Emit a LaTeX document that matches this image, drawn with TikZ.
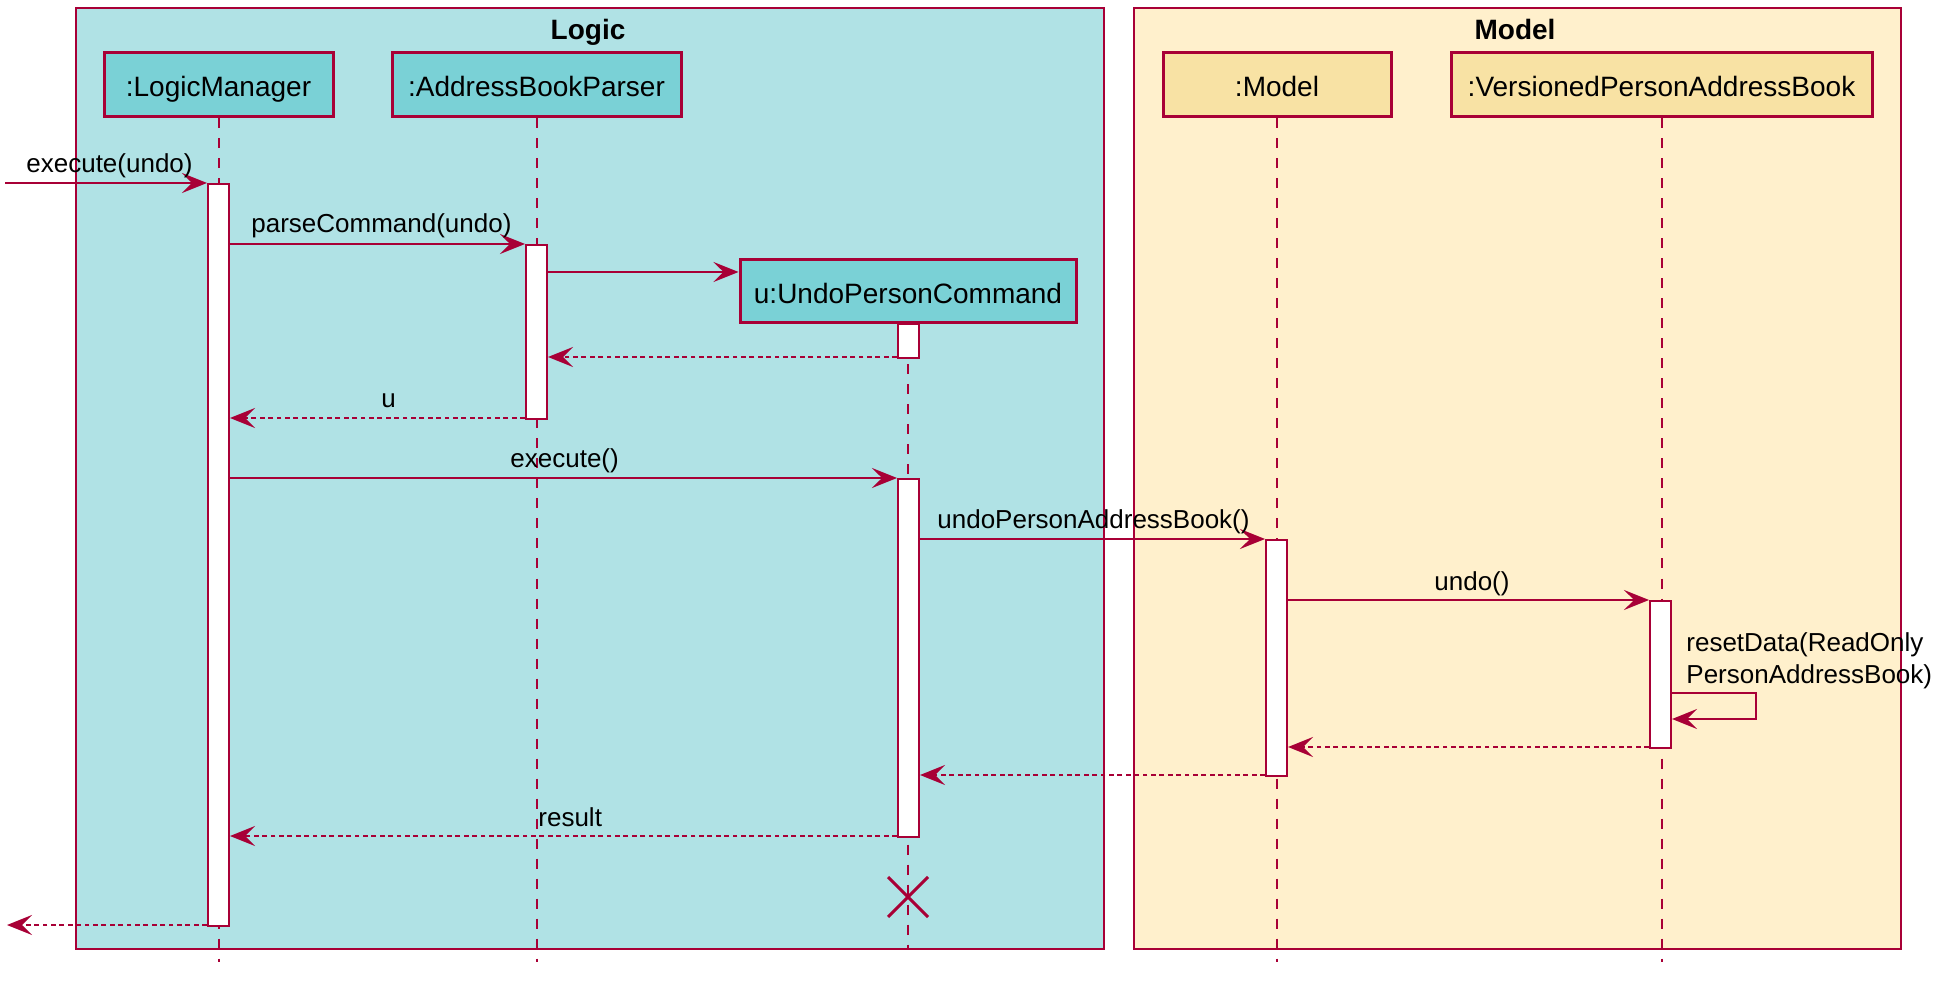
\documentclass[tikz,border=0pt]{standalone}
\usepackage{fontspec}
\setmainfont{Liberation Sans}
\usetikzlibrary{arrows.meta}
\definecolor{bord}{HTML}{A80036}
\definecolor{logicbg}{HTML}{B0E2E5}
\definecolor{logicpt}{HTML}{7AD1D6}
\definecolor{modelbg}{HTML}{FFF0CC}
\definecolor{modelpt}{HTML}{F8E2A4}
\begin{document}
\begin{tikzpicture}[x=0.5pt,y=-0.5pt,
 part/.style={draw=bord, line width=1.5pt, inner sep=0pt, text height=12pt, text depth=0pt, font=\fontsize{14}{17}\selectfont},
 lpart/.style={part, fill=logicpt},
 mpart/.style={part, fill=modelpt},
 frame/.style={draw=bord, line width=1pt},
 ttl/.style={font=\bfseries\fontsize{14}{17}\selectfont, anchor=base, inner sep=0pt},
 life/.style={draw=bord, line width=1pt, dash pattern=on 5pt off 5pt},
 act/.style={draw=bord, fill=white, line width=1pt, inner sep=0pt, minimum width=10.5pt, anchor=north},
 msg/.style={draw=bord, line width=1pt, -{Stealth[length=12.5pt,width=10pt,inset=5pt]}},
 ret/.style={msg, line width=1.1pt, dash pattern=on 2.4pt off 1.8pt},
 lbl/.style={font=\fontsize{13}{16}\selectfont, anchor=base west, inner sep=0pt},
 xmark/.style={draw=bord, line width=1.5pt},
]
\useasboundingbox (0,0) rectangle (1953,983);
% frames
\path[frame, fill=logicbg] (76,8) rectangle (1104,949);
\path[frame, fill=modelbg] (1134,8) rectangle (1901,949);
\node[ttl] (tl) at (588,40) {Logic};
\node[ttl] (tm) at (1515,40) {Model};
% participants
\node[lpart, minimum width=114.5pt, minimum height=32pt] (lm) at (218.5,85) {:LogicManager};
\node[lpart, minimum width=144.5pt, minimum height=32pt] (abp) at (536.5,85) {:AddressBookParser};
\node[mpart, minimum width=114pt, minimum height=32pt] (mo) at (1277,85) {:Model};
\node[mpart, minimum width=210.5pt, minimum height=32pt] (vp) at (1661.5,85) {:VersionedPersonAddressBook};
% y levels
\coordinate (yend) at (0,962);
\coordinate (yx) at (0,950);
\coordinate (y1) at (0,183);
\coordinate (y2) at (0,244);
\coordinate (y3) at (0,272);
\coordinate (y4) at (0,357);
\coordinate (y5) at (0,418);
\coordinate (y6) at (0,478);
\coordinate (y7) at (0,539);
\coordinate (y8) at (0,600);
\coordinate (y9a) at (0,693);
\coordinate (y9b) at (0,719);
\coordinate (y10) at (0,747);
\coordinate (y11) at (0,775);
\coordinate (y12) at (0,836);
\coordinate (y13) at (0,925);
% lifelines
\draw[life] (lm.south) -- (lm.south |- yend);
\draw[life] (abp.south) -- (abp.south |- yend);
\draw[life] (mo.south) -- (mo.south |- yend);
\draw[life] (vp.south) -- (vp.south |- yend);
\node[lpart, minimum width=168pt, minimum height=31.5pt] (upc) at (908,291.5) {u:UndoPersonCommand};
\draw[life] (upc.south) -- (upc.south |- yx);
% activations
\node[act, minimum height=371pt] (aLM) at (218.5,183) {};
\node[act, minimum height=87pt] (aABP) at (536.5,244) {};
\node[act, minimum height=17pt] (aU1) at (908.5,323) {};
\node[act, minimum height=179pt] (aU2) at (908.5,478) {};
\node[act, minimum height=118pt] (aM) at (1276.5,539) {};
\node[act, minimum height=73.5pt] (aV) at (1660.5,600) {};
% free ends
\coordinate (inL) at (5,183);
\coordinate (outL) at (7,925);
\coordinate (sc1) at (1756,693);
\coordinate (sc2) at (1756,719);
\coordinate (xd) at (908,897);
% messages
\draw[msg] (inL) -- (aLM.west |- y1);
\node[lbl] (l1) at (26,173) {execute(undo)};
\draw[msg] (aLM.east |- y2) -- (aABP.west |- y2);
\node[lbl] (l2) at (251,233) {parseCommand(undo)};
\draw[msg] (aABP.east |- y3) -- (upc.west |- y3);
\draw[ret] (aU1.west |- y4) -- (aABP.east |- y4);
\draw[ret] (aABP.west |- y5) -- (aLM.east |- y5);
\node[lbl] (l5) at (381,408) {u};
\draw[msg] (aLM.east |- y6) -- (aU2.west |- y6);
\node[lbl] (l6) at (510,468) {execute()};
\draw[msg] (aU2.east |- y7) -- (aM.west |- y7);
\node[lbl] (l7) at (937,529) {undoPersonAddressBook()};
\draw[msg] (aM.east |- y8) -- (aV.west |- y8);
\node[lbl] (l8) at (1434,590) {undo()};
\draw[msg] (aV.east |- y9a) -- (sc1) -- (sc2) -- (aV.east |- y9b);
\node[lbl] (l9a) at (1686,651) {resetData(ReadOnly};
\node[lbl] (l9b) at (1686,683) {PersonAddressBook)};
\draw[ret] (aV.west |- y10) -- (aM.east |- y10);
\draw[ret] (aM.west |- y11) -- (aU2.east |- y11);
\draw[ret] (aU2.west |- y12) -- (aLM.east |- y12);
\node[lbl] (l12) at (538,826) {result};
\draw[xmark] ([shift={(-20,-20)}]xd) -- ([shift={(20,20)}]xd);
\draw[xmark] ([shift={(-20,20)}]xd) -- ([shift={(20,-20)}]xd);
\draw[ret] (aLM.west |- y13) -- (outL);
\end{tikzpicture}
\end{document}
